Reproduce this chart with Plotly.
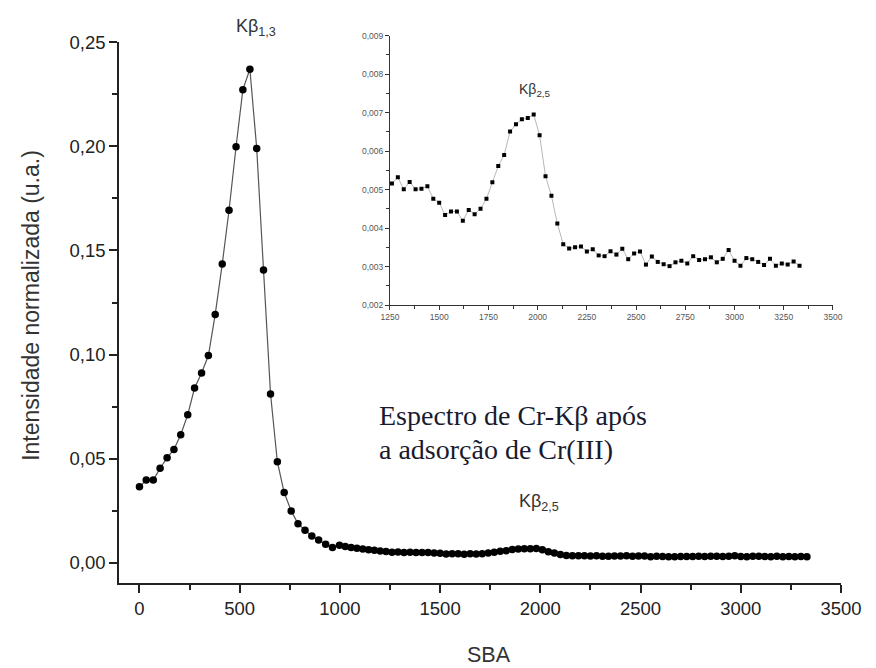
import plotly.graph_objects as go

# SBA (x) and normalized intensity (y)
sba = [0, 34, 69, 103, 138, 172, 206, 241, 275, 310, 344, 378, 413, 447, 482,
       516, 551, 585, 619, 654, 688, 722, 757, 791, 826, 860, 894, 929, 963, 998,
       1027, 1056, 1085, 1114, 1143, 1172, 1201, 1230,
       1260, 1290, 1320, 1350, 1380, 1410, 1440, 1470, 1500, 1530, 1560, 1590,
       1620, 1650, 1680, 1710, 1740, 1770, 1800, 1830, 1860, 1890, 1920, 1950,
       1980, 2010, 2040, 2070, 2100, 2130, 2160, 2190, 2220, 2250, 2280, 2310,
       2340, 2370, 2400, 2430, 2460, 2490, 2520, 2550, 2580, 2610, 2640, 2670,
       2700, 2730, 2760, 2790, 2820, 2850, 2880, 2910, 2940, 2970, 3000, 3030,
       3060, 3090, 3120, 3150, 3180, 3210, 3240, 3270, 3300, 3330]

intensity = [0.0366, 0.0398, 0.0398, 0.0455, 0.0505, 0.0545, 0.0616, 0.0712, 0.0840,
             0.0912, 0.0996, 0.1193, 0.1435, 0.1693, 0.1998, 0.2272, 0.2370, 0.1990,
             0.1406, 0.0811, 0.0486, 0.0338, 0.0250, 0.0189, 0.0157, 0.0130, 0.0111,
             0.0090, 0.0074, 0.0085,
             0.0079, 0.0075, 0.0071, 0.0067, 0.0064, 0.0061, 0.0058, 0.0055,
             0.00516, 0.00532, 0.00501, 0.00520, 0.00501, 0.00502, 0.00509, 0.00476,
             0.00466, 0.00434, 0.00443, 0.00443, 0.00419, 0.00447, 0.00436, 0.00450,
             0.00476, 0.00519, 0.00561, 0.00590, 0.00651, 0.00670, 0.00683, 0.00686,
             0.00695, 0.00641, 0.00535, 0.00484, 0.00412, 0.00358, 0.00347, 0.00350,
             0.00352, 0.00339, 0.00345, 0.00329, 0.00327, 0.00340, 0.00331, 0.00346,
             0.00319, 0.00334, 0.00339, 0.00305, 0.00326, 0.00312, 0.00306, 0.00301,
             0.00311, 0.00315, 0.00308, 0.00327, 0.00317, 0.00319, 0.00324, 0.00311,
             0.00320, 0.00343, 0.00315, 0.00302, 0.00322, 0.00319, 0.00312, 0.00304,
             0.00320, 0.00302, 0.00308, 0.00305, 0.00313, 0.00302]

inset_start = 1250
ins_x = [x for x in sba if x >= inset_start]
ins_y = [y for x, y in zip(sba, intensity) if x >= inset_start]

main_yticks = [0.0, 0.05, 0.10, 0.15, 0.20, 0.25]

SANS = "Liberation Sans, Arial, sans-serif"
SERIF = "Liberation Serif, Times New Roman, serif"
AX = "#222222"

fig = go.Figure()
fig.add_trace(go.Scatter(
    x=sba, y=intensity, mode="lines+markers",
    line=dict(color="#555555", width=1.2),
    marker=dict(color="black", size=7.5),
    xaxis="x", yaxis="y", showlegend=False, cliponaxis=False))
fig.add_trace(go.Scatter(
    x=ins_x, y=ins_y, mode="lines+markers",
    line=dict(color="#b8b8b8", width=1),
    marker=dict(color="black", size=4, symbol="square"),
    xaxis="x2", yaxis="y2", showlegend=False))

fig.update_layout(
    width=876, height=668,
    margin=dict(l=119, r=35, t=30, b=85),
    paper_bgcolor="white", plot_bgcolor="white",
    separators=",.",
    showlegend=False,
    xaxis=dict(domain=[0, 1], range=[-102, 3500], anchor="y",
               showline=True, linecolor=AX, linewidth=1.6,
               ticks="outside", ticklen=8, tickwidth=1.5, tickcolor=AX,
               tick0=0, dtick=500, tickformat="d",
               minor=dict(ticks="outside", ticklen=5, tickwidth=1.5, tickcolor=AX, dtick=250, tick0=0, showgrid=False),
               tickfont=dict(family=SANS, size=18.5, color=AX),
               showgrid=False, zeroline=False),
    yaxis=dict(domain=[0, 0.978], range=[-0.0096, 0.25], anchor="x",
               showline=True, linecolor=AX, linewidth=1.6,
               ticks="outside", ticklen=8, tickwidth=1.5, tickcolor=AX,
               tickvals=main_yticks, tickformat=".2f",
               minor=dict(ticks="outside", ticklen=5, tickwidth=1.5, tickcolor=AX, dtick=0.025, tick0=0, showgrid=False),
               tickfont=dict(family=SANS, size=18.5, color=AX),
               showgrid=False, zeroline=False),
    xaxis2=dict(domain=[0.3753, 0.9889], range=[1250, 3500], anchor="y2",
                showline=True, linecolor="#333", linewidth=1,
                ticks="outside", ticklen=4, tickwidth=1, tickcolor="#333",
                tick0=1250, dtick=250, tickformat="d",
                minor=dict(ticks="outside", ticklen=2.5, tickwidth=1, tickcolor="#333", dtick=125, tick0=1250, showgrid=False),
                tickfont=dict(family=SANS, size=8.5, color="#555"),
                showgrid=False, zeroline=False),
    yaxis2=dict(domain=[0.5027, 0.9897], range=[0.002, 0.009], anchor="x2",
                showline=True, linecolor="#333", linewidth=1,
                ticks="outside", ticklen=4, tickwidth=1, tickcolor="#333",
                tick0=0.002, dtick=0.001, tickformat=".3f",
                minor=dict(ticks="outside", ticklen=2.5, tickwidth=1, tickcolor="#333", dtick=0.0005, tick0=0.002, showgrid=False),
                tickfont=dict(family=SANS, size=8.5, color="#555"),
                showgrid=False, zeroline=False),
)

ann = [
    dict(text="Intensidade normalizada (u.a.)", xref="paper", yref="paper",
         x=-0.1219, y=0.503, xanchor="center", yanchor="middle", textangle=-90, showarrow=False,
         font=dict(family=SANS, size=23, color="#333")),
    dict(text="SBA", xref="paper", yref="paper", x=0.5125, y=-0.1302,
         xanchor="center", yanchor="middle",
         showarrow=False, font=dict(family=SANS, size=21.5, color="#333")),
    dict(text="Kβ<sub>1,3</sub>", xref="paper", yref="paper", x=0.1898, y=1.0054,
         xanchor="center", yanchor="middle",
         showarrow=False, font=dict(family=SANS, size=18, color="#333")),
    dict(text="Kβ<sub>2,5</sub>", xref="x", yref="y", x=1991, y=0.0291,
         xanchor="center", yanchor="middle",
         showarrow=False, font=dict(family=SANS, size=18, color="#333")),
    dict(text="Kβ<sub>2,5</sub>", xref="x2", yref="y2", x=1986, y=0.00759,
         xanchor="center", yanchor="middle",
         showarrow=False, font=dict(family=SANS, size=14, color="#333")),
    dict(text="Espectro de Cr-Kβ após", xref="x", yref="y", x=1184, y=0.0709,
         xanchor="left", yanchor="middle", showarrow=False,
         font=dict(family=SERIF, size=28, color="#1a1a2e")),
    dict(text="a adsorção de Cr(III)", xref="x", yref="y", x=1184, y=0.0546,
         xanchor="left", yanchor="middle", showarrow=False,
         font=dict(family=SERIF, size=28, color="#1a1a2e")),
]
fig.update_layout(annotations=ann)

fig.write_html("out.html")
